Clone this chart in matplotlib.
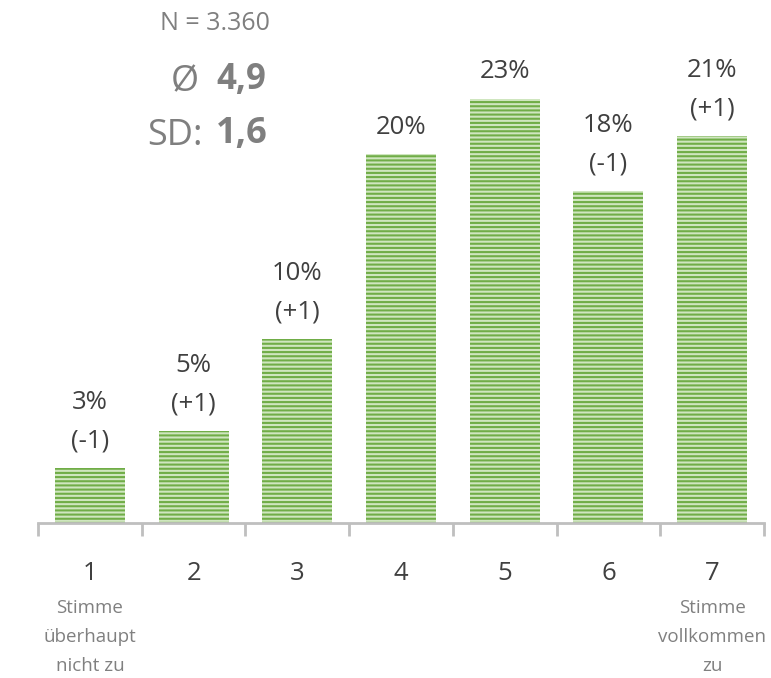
import matplotlib
matplotlib.use("Agg")
import matplotlib.pyplot as plt
import numpy as np

plt.rcParams['font.family'] = ['Open Sans', 'DejaVu Sans']
plt.rcParams['hatch.linewidth'] = 1.5

categories = ["1", "2", "3", "4", "5", "6", "7"]
values = [3, 5, 10, 20, 23, 18, 21]
changes = ["(-1)", "(+1)", "(+1)", "", "", "(-1)", "(+1)"]
left_label = ["Stimme", "überhaupt", "nicht zu"]
right_label = ["Stimme", "vollkommen", "zu"]
n_text = "N = 3.360"
mean_text = "4,9"
sd_text = "1,6"

W, H = 771, 678
fig = plt.figure(figsize=(W / 100, H / 100), dpi=100)
base_px = 523
ppu = 18.45  # pixels per percent
ax = fig.add_axes([38 / W, 1 - base_px / H, (764 - 38) / W, base_px / H])
ax.set_xlim(0.5, 7.5)
ax.set_ylim(0, base_px / ppu)

x = np.arange(1, len(categories) + 1)
ax.bar(x, values, width=0.675, color='#cfe6bf', edgecolor='#70ad47', linewidth=0,
       hatch='----')

for s in ['top', 'right', 'left']:
    ax.spines[s].set_visible(False)
ax.spines['bottom'].set_color('#bfbfbf')
ax.spines['bottom'].set_linewidth(2)
ax.set_yticks([])
ax.set_xticks(x)
ax.set_xticklabels(categories, fontsize=18.5, color='#404040')
ax.tick_params(axis='x', which='major', length=0, pad=27)
ax.set_xticks(np.arange(0.5, 8.0, 1.0), minor=True)
ax.tick_params(axis='x', which='minor', length=9, width=2, color='#bfbfbf')

px = 1 / ppu  # data units per pixel
for xi, v, c in zip(x, values, changes):
    if c:
        ax.text(xi, v + 27 * px, c, ha='center', va='center', fontsize=18.5, color='#404040')
        ax.text(xi, v + 65 * px, f"{v}%", ha='center', va='center', fontsize=18.5, color='#404040')
    else:
        ax.text(xi, v + 27 * px, f"{v}%", ha='center', va='center', fontsize=18.5, color='#404040')

for i, line in enumerate(left_label):
    ax.text(1, -(85 + 29 * i) * px, line, ha='center', va='center', fontsize=13.5,
            color='#808080')
for i, line in enumerate(right_label):
    ax.text(7, -(85 + 29 * i) * px, line, ha='center', va='center', fontsize=13.5,
            color='#808080')

gray = '#7f7f7f'
fig.text(215 / W, 1 - 23 / H, n_text, ha='center', va='center', fontsize=18, color=gray)
fig.text(199 / W, 1 - 82 / H, "Ø", ha='right', va='center', fontsize=26, color=gray)
fig.text(216 / W, 1 - 80 / H, mean_text, ha='left', va='center', fontsize=25, color=gray,
         fontweight='bold')
fig.text(203 / W, 1 - 136 / H, "SD:", ha='right', va='center', fontsize=26, color=gray)
fig.text(216 / W, 1 - 134 / H, sd_text, ha='left', va='center', fontsize=26, color=gray,
         fontweight='bold')

fig.savefig("out.png", dpi=100)
